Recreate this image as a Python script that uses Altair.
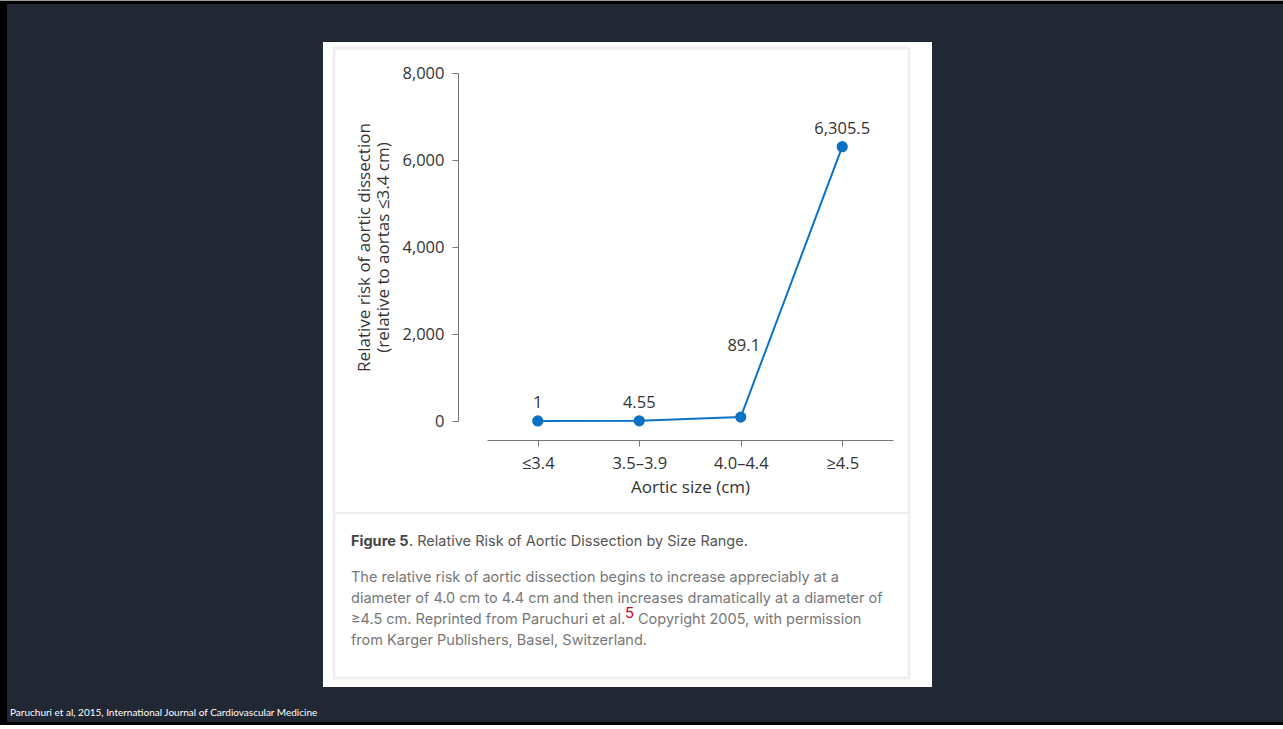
import altair as alt
import pandas as pd

# ---- data ----
categories = ["≤3.4", "3.5–3.9", "4.0–4.4", "≥4.5"]
risk_values = [1, 4.55, 89.1, 6305.5]
value_labels = ["1", "4.55", "89.1", "6,305.5"]
y_ticks = [0, 2000, 4000, 6000, 8000]

caption_title_bold = "Figure 5"
caption_title_rest = ". Relative Risk of Aortic Dissection by Size Range."
caption_lines = [
    "The relative risk of aortic dissection begins to increase appreciably at a",
    "diameter of 4.0 cm to 4.4 cm and then increases dramatically at a diameter of",
    "≥4.5 cm. Reprinted from Paruchuri et al.",
    "from Karger Publishers, Basel, Switzerland.",
]
caption_sup = "5"
caption_line3_rest = "Copyright 2005, with permission"
footer_text = "Paruchuri et al, 2015, International Journal of Cardiovascular Medicine"

df = pd.DataFrame({"size": categories, "risk": risk_values, "label": value_labels})

# plot area origin in page pixels
OX, OY = 487, 73
W, H = 406, 348

one = alt.Data(values=[{"a": 1}])


def px(v):
    return v - OX


def py(v):
    return v - OY


def rect(x1, y1, x2, y2, fill, stroke=None, sw=0):
    kw = dict(fill=fill)
    if stroke:
        kw.update(stroke=stroke, strokeWidth=sw)
    return alt.Chart(one).mark_rect(**kw).encode(
        x=alt.value(px(x1)), x2=alt.value(px(x2)),
        y=alt.value(py(y1)), y2=alt.value(py(y2)),
    )


def text(t, x, y, size, color, font, weight="normal", align="left"):
    return alt.Chart(one).mark_text(
        text=t, fontSize=size, color=color, font=font, fontWeight=weight,
        align=align, baseline="alphabetic",
    ).encode(x=alt.value(px(x)), y=alt.value(py(y)))


deco = [
    rect(0, 0, 1283, 1, "#9a9a9a"),
    rect(0, 1, 1283, 725, "#000000"),
    rect(7, 4, 1283, 722, "#222833"),
    rect(323, 42, 932, 687, "#ffffff"),
    rect(334, 48, 909, 678, "#ffffff", stroke="#efefef", sw=3),
    alt.Chart(one).mark_rule(color="#eeeeee", strokeWidth=2).encode(
        x=alt.value(px(335)), x2=alt.value(px(908)), y=alt.value(py(513))
    ),
]

cap_font = "Inter"
texts = [
    text(caption_title_bold, 351, 546, 14.5, "#444444", cap_font, weight="bold"),
    text(caption_title_rest, 409, 546, 14.5, "#555555", cap_font),
    text(caption_lines[0], 351, 582, 14.5, "#777777", cap_font),
    text(caption_lines[1], 351, 603, 14.5, "#777777", cap_font),
    text(caption_lines[2], 351, 624, 14.5, "#777777", cap_font),
    text(caption_sup, 625, 618, 15, "#d0021b", cap_font),
    text(caption_line3_rest, 638, 624, 14.5, "#777777", cap_font),
    text(caption_lines[3], 351, 645, 14.5, "#777777", cap_font),
    text(footer_text, 10, 716, 10, "#ffffff", "Lato"),
]

LINE = "#0a72c4"
FONT = "Open Sans"
FS = 16.5

x_enc = alt.X(
    "size:N", sort=categories,
    scale=alt.Scale(type="point", padding=0.5),
    axis=alt.Axis(
        title="Aortic size (cm)", offset=19, labelAngle=0, zindex=2,
        labelFont=FONT, labelFontSize=FS, labelColor="#333333", labelPadding=9,
        titleFont=FONT, titleFontSize=17, titleColor="#333333", titleFontWeight="normal",
        titlePadding=8, domainColor="#777777", tickColor="#777777", tickSize=6,
        grid=False,
    ),
)
y_enc = alt.Y(
    "risk:Q",
    scale=alt.Scale(domain=[0, 8000], nice=False, zero=True),
    axis=alt.Axis(
        title=["Relative risk of aortic dissection", "(relative to aortas ≤3.4 cm)"],
        values=y_ticks, format=",.0f", offset=29, zindex=2,
        labelFont=FONT, labelFontSize=FS, labelColor="#333333", labelPadding=8,
        titleFont=FONT, titleFontSize=17, titleColor="#333333", titleFontWeight="normal",
        titlePadding=9, titleLineHeight=19,
        domainColor="#777777", tickColor="#777777", tickSize=6, grid=False,
    ),
)

base = alt.Chart(df)
line = base.mark_line(color=LINE, strokeWidth=2).encode(x=x_enc, y=y_enc)
points = base.mark_circle(color=LINE, size=125, opacity=1).encode(x=x_enc, y=y_enc)
labels_a = base.transform_filter(alt.datum.label != "89.1").mark_text(
    fontSize=FS, font=FONT, color="#333333", dy=-18
).encode(x=x_enc, y=y_enc, text="label:N")
labels_b = base.transform_filter(alt.datum.label == "89.1").mark_text(
    fontSize=FS, font=FONT, color="#333333", dy=-71, dx=3
).encode(x=x_enc, y=y_enc, text="label:N")

chart = alt.layer(*deco, *texts, line, points, labels_a, labels_b).properties(
    width=W, height=H,
    autosize=alt.AutoSizeParams(type="none"),
    padding={"left": OX, "top": OY, "right": 1283 - OX - W, "bottom": 729 - OY - H},
    background="#ffffff",
).configure_view(stroke=None)

chart.save("out.html", embed_options={"renderer": "svg", "actions": False})
